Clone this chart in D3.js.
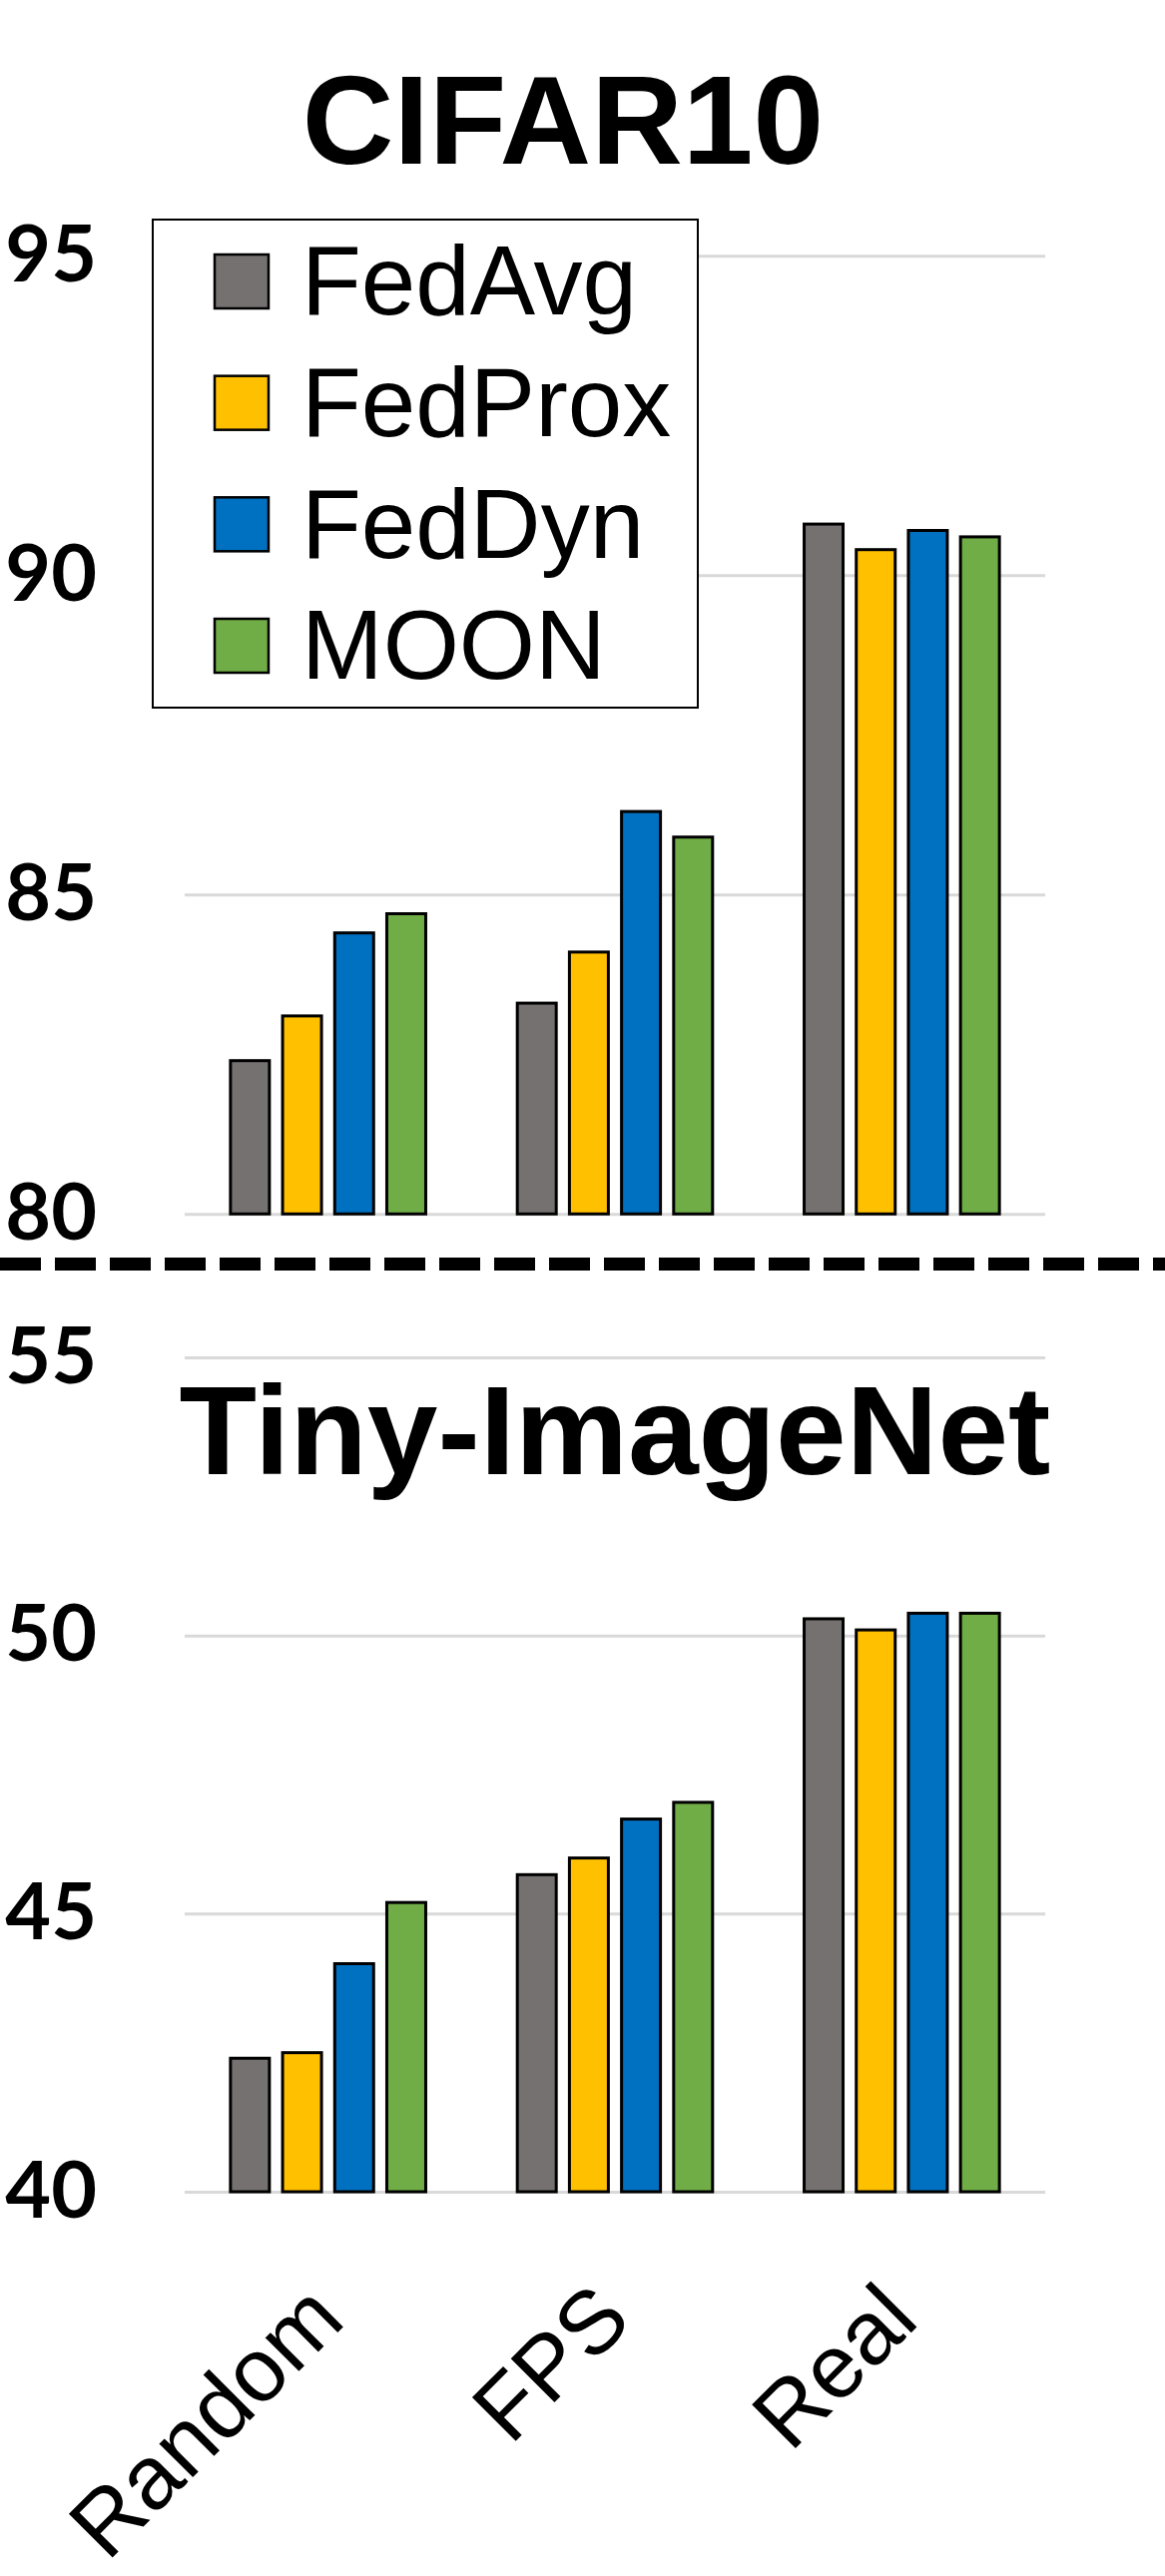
<!DOCTYPE html>
<html>
<head>
<meta charset="utf-8">
<script src="https://cdn.jsdelivr.net/npm/d3@7"></script>
<style>
  body { margin: 0; background: #fff; }
  svg { display: block; }
</style>
</head>
<body>
<div id="chart"></div>
<script>
// Data
var categories      =   ['Random', 'FPS', 'Real'];
var series          =   ['FedAvg', 'FedProx', 'FedDyn', 'MOON'];
var colors          =   ['#767171', '#FFC000', '#0070C0', '#70AD47'];

var cifar_fedavg    =   [82.4, 83.3, 90.8];
var cifar_fedprox   =   [83.1, 84.1, 90.4];
var cifar_feddyn    =   [84.4, 86.3, 90.7];
var cifar_moon      =   [84.7, 85.9, 90.6];
var cifar_ticks     =   [80, 85, 90, 95];

var tiny_fedavg     =   [42.4, 45.7, 50.3];
var tiny_fedprox    =   [42.5, 46.0, 50.1];
var tiny_feddyn     =   [44.1, 46.7, 50.4];
var tiny_moon       =   [45.2, 47.0, 50.4];
var tiny_ticks      =   [40, 45, 50, 55];

// Create SVG Element
var chart_width     =   1167;
var chart_height    =   2581;
var plot_left       =   185;
var plot_right      =   1047;
var svg             =   d3.select( '#chart' )
    .append( 'svg' )
    .attr( 'width', chart_width )
    .attr( 'height', chart_height );

// Shared x scales: one band per category, then one sub-band per method
var x0 = d3.scaleBand()
           .domain(categories)
           .range([plot_left, plot_right]);

var group_width = 195.6;
var x1 = d3.scaleBand()
           .domain(series)
           .range([0, group_width])
           .paddingInner(0.253);

function drawPanel(values, ticks, y_top, y_bottom, title, title_x, title_y) {
    var y_scale = d3.scaleLinear()
                    .domain([ticks[0], ticks[ticks.length - 1]])
                    .range([y_bottom, y_top]);

    // gridlines + tick labels from the axis
    var axis = svg.append('g')
        .attr('transform', 'translate(' + plot_left + ',0)')
        .call(d3.axisLeft(y_scale)
                .tickValues(ticks)
                .tickSize(-(plot_right - plot_left))
                .tickPadding(88)
                .tickFormat(d3.format('d')));
    axis.select('.domain').remove();
    axis.selectAll('line')
        .attr('stroke', '#D9D9D9')
        .attr('stroke-width', 3);
    axis.selectAll('text')
        .attr('font-family', 'Lato, "Open Sans", sans-serif')
        .attr('font-weight', 'bold')
        .attr('font-size', 79)
        .attr('fill', '#000');

    // one row per series
    var rows = series.map(function(s, i) {
        return { name: s, color: colors[i], values: values[i] };
    });

    svg.append('g')
        .selectAll('g')
        .data(rows)
        .enter()
        .append('g')
        .attr('fill', function(d){ return d.color; })
        .selectAll('rect')
        .data(function(d){
            return d.values.map(function(v, j){ return { name: d.name, cat: categories[j], v: v }; });
        })
        .enter()
        .append('rect')
        .attr('x', function(d){
            return x0(d.cat) + (x0.bandwidth() - group_width) / 2 + x1(d.name);
        })
        .attr('y', function(d){ return y_scale(d.v); })
        .attr('width', x1.bandwidth())
        .attr('height', function(d){ return y_scale(ticks[0]) - y_scale(d.v); })
        .attr('stroke', '#000')
        .attr('stroke-width', 3);

    svg.append('text')
        .text(title)
        .attr('x', title_x)
        .attr('y', title_y)
        .attr('text-anchor', 'middle')
        .attr('font-family', '"Liberation Sans", Arial, sans-serif')
        .attr('font-weight', 'bold')
        .attr('font-size', 127)
        .attr('fill', '#000');
}

drawPanel([cifar_fedavg, cifar_fedprox, cifar_feddyn, cifar_moon], cifar_ticks,
          256.3, 1216.3, 'CIFAR10', 564, 164);
drawPanel([tiny_fedavg, tiny_fedprox, tiny_feddyn, tiny_moon], tiny_ticks,
          1360, 2196, 'Tiny-ImageNet', 616, 1477);

// Dashed separator between the two panels
svg.append('line')
    .attr('x1', 0)
    .attr('x2', chart_width)
    .attr('y1', 1266.5)
    .attr('y2', 1266.5)
    .attr('stroke', '#000')
    .attr('stroke-width', 13)
    .attr('stroke-dasharray', '41,14');

// Category labels, rotated like the spreadsheet ones
svg.append('g')
    .selectAll('text')
    .data(categories)
    .enter()
    .append('text')
    .text(function(d){ return d; })
    .attr('transform', function(d){
        return 'translate(' + (x0(d) + x0.bandwidth() / 2 - 3) + ',2305) rotate(-45)';
    })
    .attr('dy', '0.35em')
    .attr('text-anchor', 'end')
    .attr('font-family', '"Liberation Sans", Arial, sans-serif')
    .attr('font-size', 90)
    .attr('fill', '#000');

// Legend
var legend = svg.append('g');
legend.append('rect')
    .attr('x', 153)
    .attr('y', 220)
    .attr('width', 546)
    .attr('height', 489)
    .attr('fill', '#fff')
    .attr('stroke', '#000')
    .attr('stroke-width', 2);

var legend_y = d3.scalePoint()
                 .domain(series)
                 .range([282, 647]);

var items = legend.selectAll('g.item')
    .data(series)
    .enter()
    .append('g')
    .attr('class', 'item');

items.append('rect')
    .attr('x', 215)
    .attr('y', function(d){ return legend_y(d) - 27; })
    .attr('width', 54)
    .attr('height', 54)
    .attr('fill', function(d, i){ return colors[i]; })
    .attr('stroke', '#000')
    .attr('stroke-width', 2.5);

items.append('text')
    .text(function(d){ return d; })
    .attr('x', 302)
    .attr('y', function(d){ return legend_y(d); })
    .attr('dy', '0.34em')
    .attr('font-family', '"Liberation Sans", Arial, sans-serif')
    .attr('font-size', 98)
    .attr('fill', '#000');
</script>
</body>
</html>
